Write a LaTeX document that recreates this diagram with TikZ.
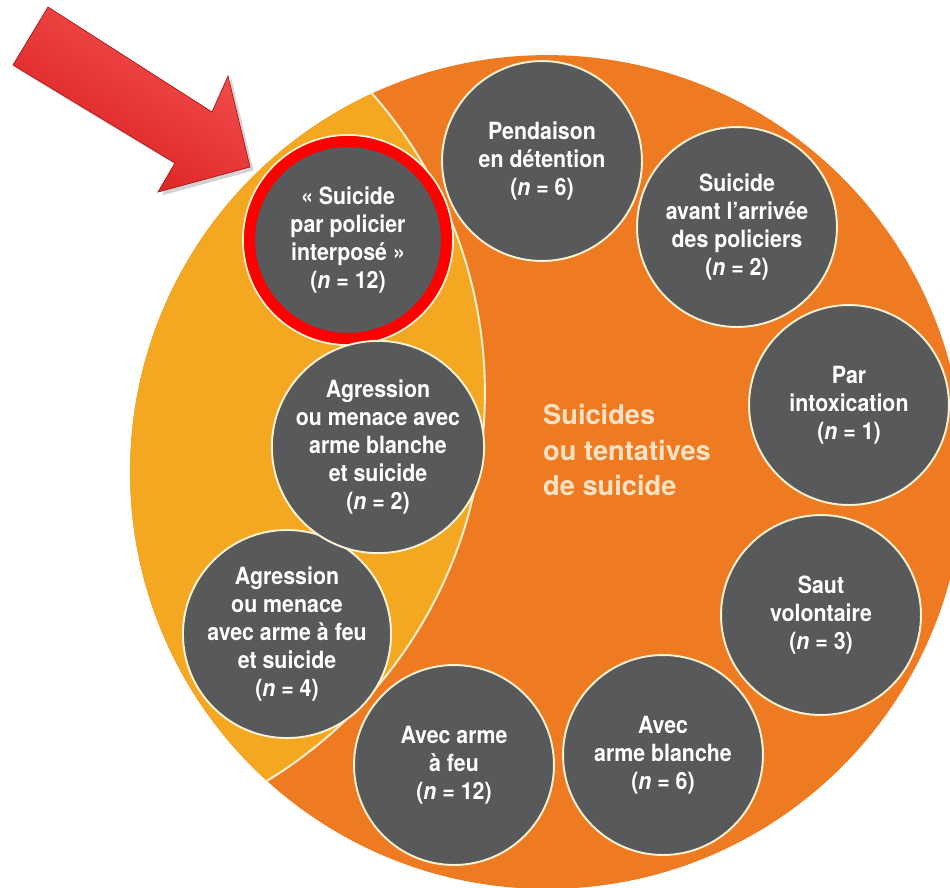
\documentclass[tikz,border=0pt]{standalone}
\usepackage{fontspec}
\setmainfont{TeX Gyre Heros}
\newfontfamily\narrowfont[FakeStretch=0.9]{TeX Gyre Heros}
\usetikzlibrary{shadows}
\definecolor{ringorange}{HTML}{EE7B22}
\definecolor{lunegold}{HTML}{F4A822}
\definecolor{slate}{HTML}{58595B}
\definecolor{cream}{HTML}{FFF1D2}
\definecolor{peach}{HTML}{FCE3C6}
\definecolor{arrowtop}{HTML}{F75454}
\definecolor{arrowbot}{HTML}{D81C1C}
\tikzset{
	case/.style = {circle, draw=cream, line width=1.1pt, fill=slate, text=white, minimum size=4cm, inner sep=0pt, align=center, font=\narrowfont\bfseries\fontsize{13.5}{16}\selectfont}, % one grey disc per kind of case
	title/.style = {align=left, anchor=west, text=peach, font=\bfseries\fontsize{15.5}{20}\selectfont},
	pointer/.style = {top color=arrowtop, bottom color=arrowbot, shading angle=-31, draw=arrowbot!80!black, line width=0.4pt, drop shadow={opacity=0.35, shadow xshift=2pt, shadow yshift=-2pt}}
}
\newcommand{\ncount}[1]{(\textit{n} = #1)}

\begin{document}
\begin{tikzpicture}[x=0.02cm,y=-0.02cm]
	\useasboundingbox (0,0) rectangle (950,887);
	\clip (0,0) rectangle (950,887);
	% background disc and the gold lune on its left
	\coordinate (hub) at (547,472);
	\fill[ringorange] (hub) circle (8.34cm);
	\begin{scope}
		\clip (hub) circle (8.34cm);
		\fill[lunegold] (31,393) circle (9.08cm);
		\draw[cream, line width=1.1pt] (31,393) circle (9.08cm);
	\end{scope}
	\node[title] (label) at (537,450) {Suicides\\ou tentatives\\de suicide};
	% the cases
	\node[case, minimum size=4.2cm] (interpose) at (348,240) {«~Suicide\\par policier\\interposé~»\\\ncount{12}};
	\draw[red, line width=0.22cm] (interpose.center) circle (1.97cm);
	\node[case] (pendaison) at (542,161) {Pendaison\\en détention\\\ncount{6}};
	\node[case] (avant) at (737,227) {Suicide\\avant l’arrivée\\des policiers\\\ncount{2}};
	\node[case] (intox) at (849,405) {Par\\intoxication\\\ncount{1}};
	\node[case] (saut) at (821,615) {Saut\\volontaire\\\ncount{3}};
	\node[case] (blanche) at (663,755) {Avec\\arme blanche\\\ncount{6}};
	\node[case] (feu) at (454,765) {Avec arme\\à feu\\\ncount{12}};
	\node[case] (agrfeu) at (287,634) {Agression\\ou menace\\avec arme à feu\\et suicide\\\ncount{4}};
	\node[case] (agrblanche) at (378,447) {Agression\\ou menace avec\\arme blanche\\et suicide\\\ncount{2}};
	% red block arrow
	\path[pointer] (48,7) -- (212,112) -- (228,76) -- (250,167) -- (158,192) -- (175,163) -- (13,65) -- cycle;
\end{tikzpicture}
\end{document}
